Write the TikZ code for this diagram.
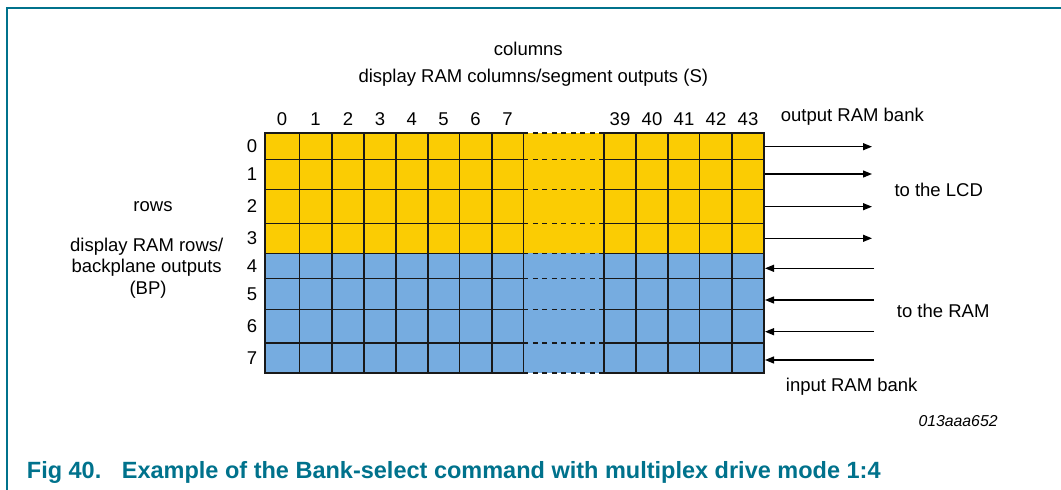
\documentclass[tikz,border=0pt]{standalone}
\usepackage{fontspec}
\setmainfont{Liberation Sans}
\usetikzlibrary{arrows.meta}
\definecolor{ramyellow}{RGB}{251,204,3}
\definecolor{ramblue}{RGB}{118,172,224}
\definecolor{nxpteal}{RGB}{0,114,140}
\begin{document}
\begin{tikzpicture}[x=1pt,y=-1pt,
  lbl/.style={inner sep=0pt, font=\fontsize{18.5}{22}\selectfont},
  gridline/.style={line width=1.6pt, draw=black!90, line cap=rect},
  dashline/.style={line width=1.6pt, draw=black!90, dash pattern=on 5pt off 4.5pt},
  arr/.style={line width=1.2pt, -{Triangle[length=9pt,width=7pt]}},
  frameline/.style={line width=1.5pt, draw=nxpteal}]
\useasboundingbox (0,0) rectangle (1061,490);
% frame
\draw[frameline] (7,490) -- (7,8) -- (1061,8);
% fills
\fill[ramyellow] (265,133) rectangle (764,253.3);
\fill[ramblue] (265,253.3) rectangle (764,372.7);
% horizontal grid lines
\foreach \y in {133,159.3,189.3,223.3,253.3,278.3,309.3,342.7,372.7} {
  \draw[gridline] (265,\y) -- (523.3,\y);
  \draw[gridline] (604,\y) -- (764,\y);
  \draw[dashline] (523.3,\y) -- (604,\y);
}
% vertical grid lines
\foreach \x in {265,299.3,331.7,364,395.7,427.7,459.3,491.7,523.3,604,636,668,699.5,731.7,764} {
  \draw[gridline] (\x,133) -- (\x,372.7);
}
% column labels
\foreach \x/\t [count=\i] in {282/0,315.5/1,348/2,380/3,411.7/4,443.5/5,475.5/6,507.5/7,620/39,652/40,684/41,716/42,748/43} {
  \node[lbl, anchor=base] (c\i) at (\x,125) {\t};
}
% row labels
\foreach \y/\t in {146/0,174.3/1,206.3/2,238.3/3,265.8/4,293.8/5,326/6,357.7/7} {
  \node[lbl] (r\t) at (252,\y) {\t};
}
% texts
\node[lbl, anchor=base] (colA) at (528.3,55) {columns};
\node[lbl, anchor=base west] (colB) at (358.3,82) {display RAM columns/segment outputs (S)};
\node[lbl, anchor=base] (rowsA) at (153,211) {rows};
\node[lbl, anchor=base] (rowsB) at (146.7,251) {display RAM rows/};
\node[lbl, anchor=base] (rowsC) at (146.7,272.7) {backplane outputs};
\node[lbl, anchor=base] (rowsD) at (148,294) {(BP)};
\node[lbl, anchor=base west] (outbank) at (780.7,121) {output RAM bank};
\node[lbl, anchor=base west] (tolcd) at (894.3,196) {to the LCD};
\node[lbl, anchor=base west] (toram) at (896.7,317.3) {to the RAM};
\node[lbl, anchor=base west] (inbank) at (785.7,391.7) {input RAM bank};
\node[inner sep=0pt, anchor=base west, font=\fontsize{15.8}{18}\selectfont\itshape] (code) at (918.3,426) {013aaa652};
\node[inner sep=0pt, anchor=base west, text=nxpteal, font=\fontsize{23.5}{28}\selectfont\bfseries] (figno) at (26.7,478.5) {Fig 40.};
\node[inner sep=0pt, anchor=base west, text=nxpteal, font=\fontsize{23.5}{28}\selectfont\bfseries] (figtitle) at (121.7,478.5) {Example of the Bank-select command with multiplex drive mode 1:4};
% arrow coordinates
\foreach \y [count=\i] in {146.7,174,206.7,238.3} {
  \coordinate (os\i) at (765,\y);
  \coordinate (oe\i) at (872,\y);
  \draw[arr] (os\i) -- (oe\i);
}
\foreach \y [count=\i] in {268.3,300,331.7,360} {
  \coordinate (is\i) at (874,\y);
  \coordinate (ie\i) at (765,\y);
  \draw[arr] (is\i) -- (ie\i);
}
\end{tikzpicture}
\end{document}
